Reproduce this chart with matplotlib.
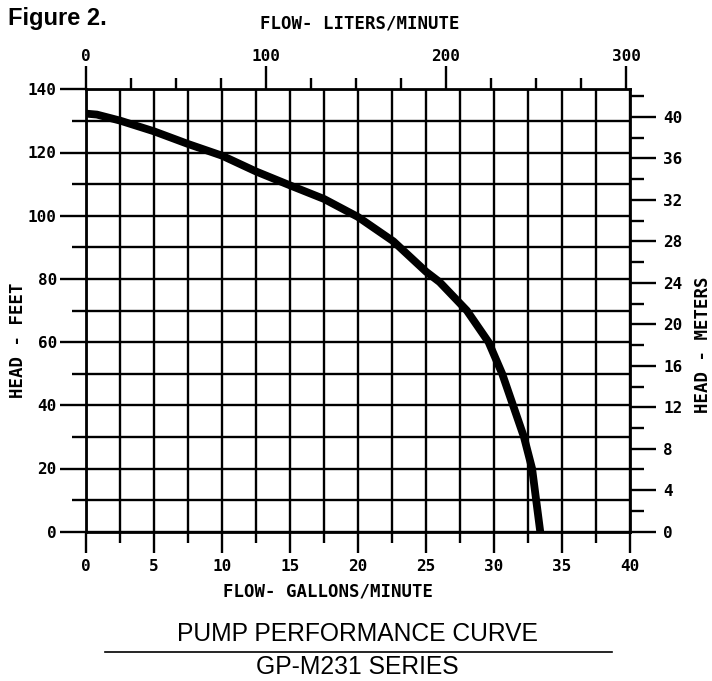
import numpy as np
import matplotlib
matplotlib.use("Agg")
import matplotlib.pyplot as plt

# pump curve (flow in GPM, head in feet)
flow_gpm = [0, 0.8, 2.5, 5, 7.5, 10, 12.5, 15, 17.5, 20, 22.6, 25, 26, 28, 29.6,
            30.6, 31.4, 32.2, 32.8, 33.1, 33.4]
head_ft = [132.3, 132.0, 130.1, 126.7, 122.7, 119.0, 114.0, 109.6, 105.3, 99.6, 91.9,
           82.3, 79.0, 70.0, 60.0, 50.0, 40.0, 30.0, 20.0, 10.0, 0]

gpm_ticks = [0, 5, 10, 15, 20, 25, 30, 35, 40]
feet_ticks = [0, 20, 40, 60, 80, 100, 120, 140]
lpm_ticks = [0, 100, 200, 300]
meter_ticks = [0, 4, 8, 12, 16, 20, 24, 28, 32, 36, 40]

TICK_FONT = dict(family="DejaVu Sans Mono", weight="bold", size=11.5)
LW = 1.7


def main():
    fig = plt.figure(figsize=(7.12, 6.81), dpi=100)
    ax = fig.add_axes([86 / 712, 1 - 531.7 / 681, 544 / 712, 442.4 / 681])

    ax.plot(flow_gpm, head_ft, color="black", lw=5.6, solid_joinstyle="round",
            solid_capstyle="butt", zorder=5)

    ax.set_xlim(0, 40)
    ax.set_ylim(0, 140)

    ax.set_xticks(gpm_ticks)
    ax.set_xticks(np.arange(2.5, 40, 5), minor=True)
    ax.set_yticks(feet_ticks)
    ax.set_yticks(np.arange(10, 140, 20), minor=True)
    ax.set_xticklabels([str(t) for t in gpm_ticks], fontdict=TICK_FONT)
    ax.set_yticklabels([str(t) for t in feet_ticks], fontdict=TICK_FONT)

    ax.grid(which="both", color="black", lw=LW)
    ax.tick_params(axis="x", which="major", direction="out", length=15, width=LW, pad=5)
    ax.tick_params(axis="x", which="minor", direction="out", length=8, width=LW)
    ax.tick_params(axis="y", which="major", direction="out", length=19, width=LW, pad=2)
    ax.tick_params(axis="y", which="minor", direction="out", length=10, width=LW)
    for s in ax.spines.values():
        s.set_linewidth(2)

    # top axis: liters per minute
    top = ax.twiny()
    top.set_xlim(0, 544 / 1.8)
    top.set_xticks(lpm_ticks)
    top.set_xticks([t for t in range(25, 300, 25) if t % 100], minor=True)
    top.set_xticklabels([str(t) for t in lpm_ticks], fontdict=TICK_FONT)
    top.tick_params(axis="x", which="major", direction="out", length=16.5, width=LW, pad=2)
    top.tick_params(axis="x", which="minor", direction="out", length=8, width=LW)
    for s in top.spines.values():
        s.set_visible(False)

    # right axis: meters
    right = ax.twinx()
    right.set_ylim(0, 140 / 3.28084)
    right.set_yticks(meter_ticks)
    right.set_yticks(np.arange(2, 43, 4), minor=True)
    right.set_yticklabels([str(t) for t in meter_ticks], fontdict=TICK_FONT)
    right.tick_params(axis="y", which="major", direction="out", length=19, width=LW, pad=5)
    right.tick_params(axis="y", which="minor", direction="out", length=10, width=LW)
    for s in right.spines.values():
        s.set_visible(False)

    lab = dict(family="DejaVu Sans Mono", weight="bold", size=12.5)
    fig.text(360 / 712, 1 - 23 / 681, "FLOW- LITERS/MINUTE", ha="center", va="center", **lab)
    fig.text(328 / 712, 1 - 591 / 681, "FLOW- GALLONS/MINUTE", ha="center", va="center", **lab)
    fig.text(18 / 712, 1 - 340 / 681, "HEAD - FEET", ha="center", va="center", rotation=90, **lab)
    fig.text(703 / 712, 1 - 345 / 681, "HEAD - METERS", ha="center", va="center", rotation=90, **lab)

    fig.text(8 / 712, 1 - 18 / 681, "Figure 2.", ha="left", va="center",
             family="Liberation Sans", weight="bold", size=17)

    fig.text(357 / 712, 1 - 634 / 681, "PUMP PERFORMANCE CURVE", ha="center", va="center",
             family="Liberation Sans", size=17.7)
    fig.text(357 / 712, 1 - 667 / 681, "GP-M231 SERIES", ha="center", va="center",
             family="Liberation Sans", size=17.7)
    fig.add_artist(plt.Line2D([105 / 712, 612 / 712], [1 - 652 / 681] * 2,
                              color="black", lw=1.2, transform=fig.transFigure))

    fig.savefig("out.png", dpi=100, facecolor="white")
    plt.close(fig)


if __name__ == "__main__":
    main()
